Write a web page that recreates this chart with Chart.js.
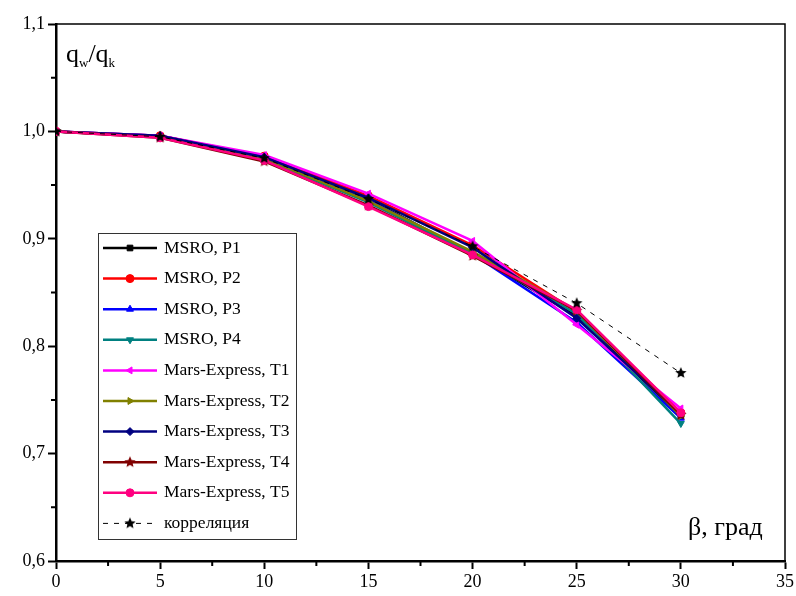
<!DOCTYPE html>
<html>
<head>
<meta charset="utf-8">
<script src="https://cdn.jsdelivr.net/npm/chart.js@4/dist/chart.umd.min.js"></script>
<style>
  html, body { margin: 0; padding: 0; background: #fff; }
  #wrap { width: 796px; height: 596px; }
</style>
</head>
<body>
<div id="wrap"><canvas id="chart"></canvas></div>
<script>
const angles = [0, 5, 10, 15, 20, 25, 30];

const msroP1 = [1.000, 0.995, 0.974, 0.937, 0.886, 0.828, 0.735];
const msroP2 = [1.000, 0.996, 0.977, 0.940, 0.894, 0.832, 0.738];
const msroP3 = [1.000, 0.996, 0.976, 0.936, 0.886, 0.822, 0.733];
const msroP4 = [1.000, 0.995, 0.974, 0.934, 0.886, 0.830, 0.728];
const marsT1 = [1.000, 0.996, 0.978, 0.942, 0.898, 0.820, 0.742];
const marsT2 = [1.000, 0.995, 0.975, 0.935, 0.888, 0.833, 0.735];
const marsT3 = [1.000, 0.996, 0.976, 0.938, 0.892, 0.826, 0.737];
const marsT4 = [1.000, 0.994, 0.972, 0.931, 0.884, 0.833, 0.736];
const marsT5 = [1.000, 0.994, 0.973, 0.930, 0.885, 0.834, 0.738];
const correlation = [1.000, 0.995, 0.975, 0.937, 0.893, 0.840, 0.775];

const seriesNames = [
  'MSRO, P1', 'MSRO, P2', 'MSRO, P3', 'MSRO, P4',
  'Mars-Express, T1', 'Mars-Express, T2', 'Mars-Express, T3',
  'Mars-Express, T4', 'Mars-Express, T5', 'корреляция'
];
const seriesValues = [msroP1, msroP2, msroP3, msroP4, marsT1, marsT2, marsT3, marsT4, marsT5, correlation];
const seriesColors = ['#000000', '#ff0000', '#0000ff', '#008080', '#ff00ff', '#808000', '#000080', '#800000', '#ff0080', '#000000'];
const seriesMarkers = ['rect', 'circle', 'triangle', 'triangle', 'triangle', 'triangle', 'rectRot', 'fstar', 'circle', 'fstar'];
const markerRotation = [0, 0, 0, 180, -90, 90, 0, 0, 0, 0];

const xTicks = [0, 5, 10, 15, 20, 25, 30, 35];
const yTicks = [0.6, 0.7, 0.8, 0.9, 1.0, 1.1];

const serif = '"Liberation Serif", "DejaVu Serif", serif';

// filled five point star as an image marker
function starImage(color, r) {
  const c = document.createElement('canvas');
  c.width = c.height = r * 2 + 2;
  const g = c.getContext('2d');
  g.fillStyle = color;
  g.beginPath();
  for (let k = 0; k < 10; k++) {
    const rad = k % 2 === 0 ? r : r * 0.45;
    const ang = -Math.PI / 2 + k * Math.PI / 5;
    const px = r + 1 + rad * Math.cos(ang), py = r + 1 + rad * Math.sin(ang);
    k === 0 ? g.moveTo(px, py) : g.lineTo(px, py);
  }
  g.closePath();
  g.fill();
  return c;
}

const datasets = seriesNames.map((name, i) => {
  const isCorr = i === seriesNames.length - 1;
  const marker = seriesMarkers[i] === 'fstar' ? starImage(seriesColors[i], 6) : seriesMarkers[i];
  return {
    label: name,
    data: angles.map((a, j) => ({ x: a, y: seriesValues[i][j] })),
    borderColor: seriesColors[i],
    backgroundColor: seriesColors[i],
    borderWidth: isCorr ? 1 : 2.5,
    borderDash: isCorr ? [5, 6] : [],
    pointStyle: marker,
    rotation: markerRotation[i],
    pointRadius: 4,
    pointBorderWidth: 1,
    tension: 0,
    order: isCorr ? -1 : seriesNames.length - i
  };
});

// axis frame, minor ticks, titles
const decorPlugin = {
  id: 'decor',
  afterDraw(chart) {
    const ctx = chart.ctx;
    const a = chart.chartArea;
    const xs = chart.scales.x, ys = chart.scales.y;
    ctx.save();
    ctx.strokeStyle = '#000';
    ctx.lineWidth = 1.5;
    ctx.beginPath();
    ctx.moveTo(a.left, a.top);
    ctx.lineTo(a.right, a.top);
    ctx.lineTo(a.right, a.bottom);
    ctx.stroke();

    ctx.lineWidth = 2;
    ctx.beginPath();
    for (let v = 2.5; v < 35; v += 5) {
      const px = xs.getPixelForValue(v);
      ctx.moveTo(px, a.bottom);
      ctx.lineTo(px, a.bottom + 5);
    }
    for (let v = 0.65; v < 1.1; v += 0.1) {
      const py = ys.getPixelForValue(v);
      ctx.moveTo(a.left, py);
      ctx.lineTo(a.left - 5, py);
    }
    ctx.stroke();

    ctx.fillStyle = '#000';
    ctx.textBaseline = 'alphabetic';
    ctx.textAlign = 'left';
    ctx.font = '26px ' + serif;
    let x = 66, y = 62;
    ctx.fillText('q', x, y);
    x += ctx.measureText('q').width;
    ctx.font = '13px ' + serif;
    ctx.fillText('w', x, y + 5);
    x += ctx.measureText('w').width;
    ctx.font = '26px ' + serif;
    ctx.fillText('/q', x, y);
    x += ctx.measureText('/q').width;
    ctx.font = '13px ' + serif;
    ctx.fillText('k', x, y + 5);

    ctx.font = '26px ' + serif;
    ctx.fillText('β, град', 688, 535);
    ctx.restore();
  }
};

// legend box inside the plot
const legendPlugin = {
  id: 'boxLegend',
  afterDraw(chart) {
    const ctx = chart.ctx;
    const left = 98, top = 233, w = 198, h = 306;
    ctx.save();
    ctx.fillStyle = '#fff';
    ctx.fillRect(left, top, w, h);
    ctx.strokeStyle = '#333';
    ctx.lineWidth = 1;
    ctx.strokeRect(left + 0.5, top + 0.5, w, h);
    chart.data.datasets.forEach((ds, i) => {
      const y = top + 15 + i * 30.6;
      ctx.strokeStyle = ds.borderColor;
      ctx.fillStyle = ds.borderColor;
      ctx.lineWidth = ds.borderWidth;
      ctx.setLineDash(ds.borderDash || []);
      ctx.beginPath();
      ctx.moveTo(103, y);
      ctx.lineTo(157, y);
      ctx.stroke();
      ctx.setLineDash([]);
      ctx.lineWidth = 1;
      Chart.helpers.drawPoint(ctx, {
        pointStyle: ds.pointStyle, radius: ds.pointRadius, rotation: ds.rotation, borderWidth: 1
      }, 130, y);
      ctx.fillStyle = '#000';
      ctx.font = '17.5px ' + serif;
      ctx.textBaseline = 'middle';
      ctx.textAlign = 'left';
      ctx.fillText(ds.label, 164, y);
    });
    ctx.restore();
  }
};

const fmt = v => v.toFixed(1).replace('.', ',');

new Chart(document.getElementById('chart'), {
  type: 'line',
  data: { datasets },
  plugins: [decorPlugin, legendPlugin],
  options: {
    responsive: true,
    maintainAspectRatio: false,
    animation: false,
    layout: { padding: { top: 24, right: 10, left: 0, bottom: 0 } },
    plugins: { legend: { display: false }, tooltip: { enabled: false } },
    scales: {
      x: {
        type: 'linear', min: 0, max: 35,
        afterBuildTicks: s => { s.ticks = xTicks.map(v => ({ value: v })); },
        afterFit: s => { s.height = 35; },
        ticks: { color: '#000', font: { family: serif, size: 18 }, padding: 2, maxRotation: 0 },
        grid: { drawOnChartArea: false, tickLength: 8, tickColor: '#000', tickWidth: 2 },
        border: { color: '#000', width: 2.5 }
      },
      y: {
        type: 'linear', min: 0.6, max: 1.1,
        afterBuildTicks: s => { s.ticks = yTicks.map(v => ({ value: v })); },
        afterFit: s => { s.width = 56; },
        ticks: { color: '#000', font: { family: serif, size: 18 }, padding: 3, callback: v => fmt(v) },
        grid: { drawOnChartArea: false, tickLength: 8, tickColor: '#000', tickWidth: 2 },
        border: { color: '#000', width: 2.5 }
      }
    }
  }
});
</script>
</body>
</html>
